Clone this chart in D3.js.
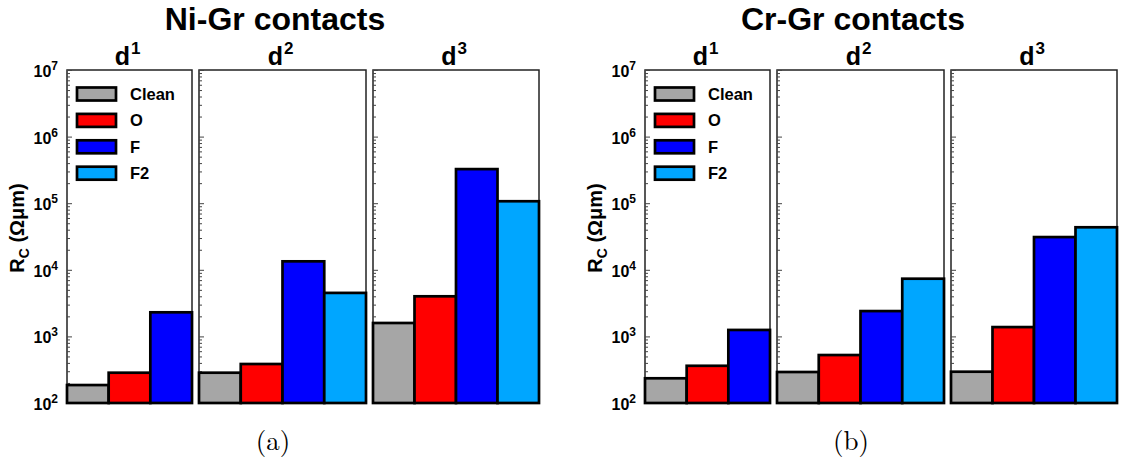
<!DOCTYPE html>
<html>
<head>
<meta charset="utf-8">
<script src="https://cdn.jsdelivr.net/npm/d3@7"></script>
<style>
  body { margin: 0; background: #fff; }
  svg { display: block; }
  text { font-family: "Liberation Sans", Arial, sans-serif; font-weight: bold; fill: #000; }
</style>
</head>
<body>
<svg id="chart" width="1122" height="461"></svg>
<script>
// series & colours
var series = ["Clean", "O", "F", "F2"];
var colors = ["#a6a6a6", "#ff0000", "#0000ff", "#00a6ff"];
var groups = ["1", "2", "3"]; // superscripts of d
var panelTitles = ["Ni-Gr contacts", "Cr-Gr contacts"];
var captions = ["(a)", "(b)"];
var yTicks = [2, 3, 4, 5, 6, 7]; // exponents
// R_C values (Ohm um), per group
var niValues = [[186, 285, 2300], [285, 385, 13400, 4500], [1590, 4000, 325000, 107000]];
var crValues = [[235, 362, 1250], [292, 525, 2400, 7350], [295, 1380, 31000, 43500]];

var svg = d3.select("#chart");
var panelOffset = [0, 578];
var subX = [[67, 192], [199, 366], [373, 539]];
var yTop = 70, yBottom = 403;

var y = d3.scaleLog().domain([1e2, 1e7]).range([yBottom, yTop]);

var minorVals = [];
for (var e = 2; e < 7; e++) for (var k = 2; k <= 9; k++) minorVals.push(k * Math.pow(10, e));

function drawPanel(p, values) {
  var off = panelOffset[p];
  var g = svg.append("g").attr("transform", "translate(" + off + ",0)");

  g.append("text").attr("x", 275).attr("y", 30)
    .attr("text-anchor", "middle").attr("font-size", 32)
    .text(panelTitles[p]);

  g.append("text").attr("x", 273).attr("y", 450)
    .attr("text-anchor", "middle")
    .style("font-family", "'Latin Modern Roman','Liberation Serif','DejaVu Serif',serif")
    .style("font-weight", "normal")
    .attr("font-size", 27)
    .text(captions[p]);

  // y label
  var yl = g.append("text").attr("transform", "translate(24,228) rotate(-90)")
    .attr("text-anchor", "middle").attr("font-size", 20);
  yl.append("tspan").text("R");
  yl.append("tspan").attr("font-size", 14).attr("dy", 5).text("C");
  yl.append("tspan").attr("dy", -5).text(" (Ωμm)");

  values.forEach(function(vals, i) {
    var x0 = subX[i][0], x1 = subX[i][1];
    var names = series.slice(0, vals.length);
    var x = d3.scaleBand().domain(names).range([x0, x1]).padding(0);
    var sg = g.append("g");

    var ttl = sg.append("text").attr("x", (x0 + x1) / 2 - 2).attr("y", 65)
      .attr("text-anchor", "middle").attr("font-size", 25);
    ttl.append("tspan").text("d");
    ttl.append("tspan").attr("font-size", 17).attr("dx", 1).attr("dy", -11).text(groups[i]);

    sg.append("rect").attr("x", x0).attr("y", yTop)
      .attr("width", x1 - x0).attr("height", yBottom - yTop)
      .attr("fill", "#fff").attr("stroke", "#222").attr("stroke-width", 1.5);

    // minor ticks
    sg.append("g").attr("transform", "translate(" + x0 + ",0)")
      .call(d3.axisLeft(y).tickValues(minorVals).tickSize(-3).tickFormat(""))
      .call(function(a) { a.select(".domain").remove(); a.selectAll("line").attr("stroke", "#444"); });
    // major ticks
    var ax = sg.append("g").attr("transform", "translate(" + x0 + ",0)")
      .call(d3.axisLeft(y).tickValues(yTicks.map(function(e) { return Math.pow(10, e); }))
        .tickSize(-5).tickPadding(9).tickFormat(function() { return ""; }))
      .call(function(a) { a.select(".domain").remove(); a.selectAll("line").attr("stroke", "#444"); });
    if (i === 0) {
      ax.selectAll(".tick text").each(function(d) {
        var t = d3.select(this).attr("fill", null).attr("font-size", 16)
          .attr("font-family", null).attr("dy", "0.4em");
        t.append("tspan").text("10");
        t.append("tspan").attr("font-size", 12).attr("dy", -7).text(Math.round(Math.log10(d)));
      });
    }

    sg.selectAll("rect.bar").data(vals).enter().append("rect")
      .attr("class", "bar")
      .attr("x", function(d, j) { return x(names[j]); })
      .attr("width", x.bandwidth())
      .attr("y", function(d) { return y(d); })
      .attr("height", function(d) { return yBottom - y(d); })
      .attr("fill", function(d, j) { return colors[j]; })
      .attr("stroke", "#000").attr("stroke-width", 2.7);

    if (i === 0) {
      var lg = sg.append("g");
      series.forEach(function(s, j) {
        var cy = 94 + j * 26.4;
        lg.append("rect").attr("x", 77).attr("y", cy - 6.5).attr("width", 39).attr("height", 13)
          .attr("fill", colors[j]).attr("stroke", "#000").attr("stroke-width", 2.7);
        lg.append("text").attr("x", 130).attr("y", cy).attr("dy", "0.36em")
          .attr("font-size", 16.5).text(s);
      });
    }
  });
}

drawPanel(0, niValues);
drawPanel(1, crValues);
</script>
</body>
</html>
